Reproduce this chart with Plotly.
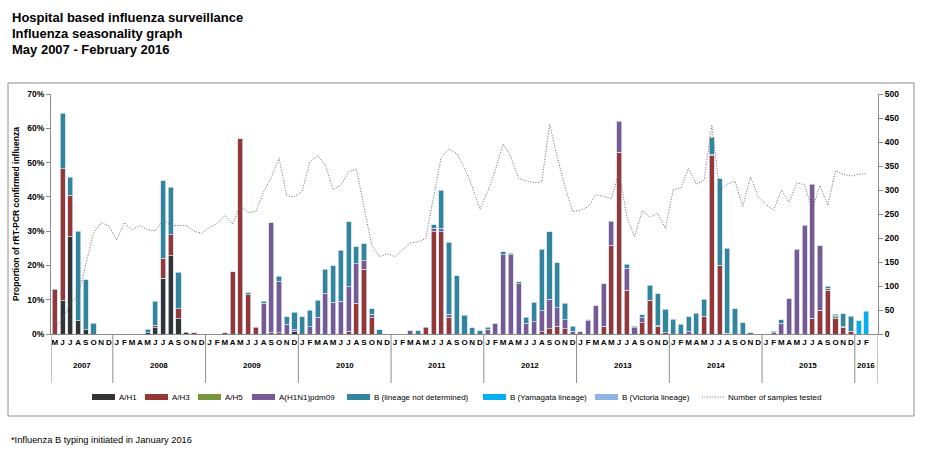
import plotly.graph_objects as go

# ---------------- data ----------------
months = (["M", "J", "J", "A", "S", "O", "N", "D"]
          + ["J", "F", "M", "A", "M", "J", "J", "A", "S", "O", "N", "D"] * 8
          + ["J", "F", ""])
years = ["2007", "2008", "2009", "2010", "2011", "2012", "2013", "2014", "2015", "2016"]
year_len = [8, 12, 12, 12, 12, 12, 12, 12, 12, 3]

a_h1 = ([0, 9.7, 28.4, 3.9, 1.2, 0, 0, 0]
        + [0, 0, 0, 0, 0.4, 1.8, 16.2, 22.8, 4.4, 0.5, 0, 0]
        + [0, 0, 0, 0, 0, 0, 0, 0, 0, 0, 0, 0.8]
        + [0] * 12 * 6
        + [0, 0, None])
a_h3 = ([13.1, 38.5, 12.0, 0, 0, 0, 0, 0]
        + [0, 0, 0, 0, 0, 0.7, 5.9, 6.2, 3.0, 0, 0.4, 0]
        + [0, 0, 0.4, 18.2, 56.9, 11.4, 1.9, 0, 0.4, 0.4, 0, 0]
        + [0, 0, 0, 0, 0, 0, 0.8, 8.9, 18.9, 4.8, 0, 0]
        + [0, 0, 0, 0, 1.9, 29.8, 29.8, 4.9, 0, 0, 0, 0]
        + [0, 0, 0, 0, 0, 0, 0, 0.6, 1.5, 2.2, 1.5, 0]
        + [0, 0, 0, 2.3, 25.9, 53.0, 12.8, 0, 3.3, 9.7, 2.3, 0.3]
        + [0, 0, 0, 0, 5.2, 52.0, 20.0, 0.2, 0, 0, 0, 0]
        + [0, 0, 0, 0, 0, 0, 4.6, 7.0, 12.8, 4.5, 1.9, 0.8]
        + [0, 0, None])
a_h5 = ([0] * 8 + [0] * 12 * 7
        + [0, 0, 0, 0, 0, 0, 0, 0, 0, 0.5, 0, 0]
        + [0, 0, None])
pdm09 = ([0] * 8
         + [0] * 12
         + [0, 0, 0, 0, 0, 0, 0, 8.9, 32.1, 15.0, 2.9, 0.6]
         + [0, 2.1, 4.9, 11.9, 9.2, 9.5, 13.0, 11.6, 2.5, 1.0, 0, 0]
         + [0, 0, 1.0, 0, 0, 1.0, 1.0, 0.9, 0, 0, 0, 0]
         + [1.4, 3.1, 23.1, 23.1, 14.6, 3.1, 3.6, 6.2, 8.7, 5.4, 2.7, 0.8]
         + [0.7, 3.9, 8.2, 12.3, 7.0, 9.1, 6.4, 1.8, 1.4, 0.1, 0.1, 0]
         + [0, 0, 0.7, 0, 0, 0.4, 0, 0, 0, 0, 0, 0]
         + [0, 0.4, 3.1, 10.3, 24.7, 31.7, 39.1, 18.8, 0.6, 0.3, 0.2, 0]
         + [0, 0, None])
b_nd = ([0, 16.2, 5.3, 26.1, 14.6, 3.2, 0, 0]
        + [0, 0, 0, 0, 1.0, 7.1, 22.6, 13.8, 10.6, 0, 0, 0]
        + [0, 0, 0, 0, 0, 0.6, 0, 0.6, 0, 1.5, 2.1, 4.9]
        + [5.0, 4.8, 4.9, 7.0, 10.7, 15.0, 19.0, 5.0, 4.9, 1.5, 1.2, 0]
        + [0, 0, 0, 1.0, 0, 1.1, 11.2, 21.0, 17.0, 5.4, 1.8, 1.0]
        + [0.5, 0.1, 0.9, 0.5, 0.6, 1.8, 5.7, 17.9, 19.6, 13.2, 4.7, 1.5]
        + [0, 0.3, 0, 0, 0, 0, 1.2, 0.5, 0.9, 4.4, 9.4, 6.9]
        + [4.3, 2.8, 4.4, 6.0, 4.9, 5.0, 25.3, 24.8, 7.4, 3.3, 0.3, 0]
        + [0, 0.4, 1.0, 0, 0, 0, 0, 0, 0.5, 0.5, 3.8, 4.4]
        + [0, 0, None])
b_yam = [0] * 104 + [3.8, 6.7, None]
b_vic = [0] * 104 + [0, 0, None]

samples = ([15, 30, 65, 80, 145, 210, 232, 225]
           + [196, 232, 217, 226, 217, 215, 238, 226, 226, 226, 214, 210]
           + [222, 230, 247, 229, 268, 253, 255, 296, 326, 367, 288, 286]
           + [297, 359, 371, 352, 301, 310, 338, 344, 265, 185, 161, 167]
           + [161, 176, 190, 192, 199, 286, 369, 385, 376, 346, 307, 260]
           + [297, 342, 396, 369, 324, 319, 315, 317, 437, 369, 307, 255]
           + [258, 265, 290, 287, 282, 338, 244, 203, 257, 244, 251, 220]
           + [300, 305, 345, 312, 321, 435, 300, 312, 319, 265, 328, 286]
           + [270, 258, 300, 274, 315, 311, 260, 309, 268, 340, 333, 329]
           + [333, 334, None])

x = list(range(len(months)))

series = [
    ("A/H1", a_h1, "#333333"),
    ("A/H3", a_h3, "#953735"),
    ("A/H5", a_h5, "#77933C"),
    ("A(H1N1)pdm09", pdm09, "#775A94"),
    ("B (lineage not determined)", b_nd, "#31859C"),
    ("B (Yamagata lineage)", b_yam, "#00B0F0"),
    ("B (Victoria lineage)", b_vic, "#8DB4E2"),
]
line_name = "Number of samples tested"
line_color = "#6a6a6a"

FONT = "Liberation Sans"
W, H = 931, 459
L, R, T, B = 51, 878, 94, 334


def px_x(p):
    return (p - L) / (R - L)


def px_y(p):
    return (B - p) / (B - T)


fig = go.Figure()
for name, vals, col in series:
    fig.add_trace(go.Bar(
        x=x, y=[v if v else None for v in vals], name=name,
        marker=dict(color=col, line=dict(color="rgba(205,220,238,0.95)", width=0.8)),
        width=0.66, yaxis="y", showlegend=False,
    ))

fig.add_trace(go.Scatter(
    x=x, y=samples, name=line_name, mode="lines",
    line=dict(color=line_color, width=1, dash="1px,1.6px"), yaxis="y2",
    showlegend=False,
))

shapes = []
ann = []
# outer chart border
shapes.append(dict(type="rect", xref="paper", yref="paper",
                   x0=px_x(8), x1=px_x(914), y0=px_y(416), y1=px_y(83),
                   line=dict(color="#8c8c8c", width=1), fillcolor="rgba(0,0,0,0)"))
# year separators and labels
start = -0.5
for yr, n in zip(years, year_len):
    end = start + n
    shapes.append(dict(type="line", xref="x", yref="paper", x0=start, x1=start,
                       y0=0, y1=px_y(383), line=dict(color="#8c8c8c", width=1)))
    ann.append(dict(xref="x", yref="paper", x=(start + end) / 2, y=px_y(372),
                    text=yr, showarrow=False,
                    font=dict(family=FONT, size=8, color="#000", weight="bold")))
    start = end
shapes.append(dict(type="line", xref="x", yref="paper", x0=start, x1=start,
                   y0=0, y1=px_y(383), line=dict(color="#8c8c8c", width=1)))

# legend (drawn manually to match the reference's layout)
legend_x = [92, 145, 198, 252, 347, 483, 595]
ly = 397
for (name, _, col), lx in zip(series, legend_x):
    shapes.append(dict(type="rect", xref="paper", yref="paper",
                       x0=px_x(lx), x1=px_x(lx + 23), y0=px_y(ly + 3), y1=px_y(ly - 3),
                       line=dict(width=0), fillcolor=col))
    ann.append(dict(xref="paper", yref="paper", x=px_x(lx + 25), y=px_y(ly),
                    xanchor="left", yanchor="middle", text=name, showarrow=False,
                    font=dict(family=FONT, size=8, color="#000")))
shapes.append(dict(type="line", xref="paper", yref="paper",
                   x0=px_x(702), x1=px_x(724), y0=px_y(ly), y1=px_y(ly),
                   line=dict(color=line_color, width=1, dash="1px,1.6px")))
ann.append(dict(xref="paper", yref="paper", x=px_x(726), y=px_y(ly),
                xanchor="left", yanchor="middle", text=line_name, showarrow=False,
                font=dict(family=FONT, size=8, color="#000")))

titles = ["Hospital based influenza surveillance", "Influenza seasonality graph",
          "May 2007 - February 2016"]
for i, t in enumerate(titles):
    ann.append(dict(xref="paper", yref="paper", x=px_x(10), y=px_y(17 + 16 * i),
                    xanchor="left", yanchor="middle", text=t, showarrow=False,
                    font=dict(family=FONT, size=13, color="#000", weight="bold")))
ann.append(dict(xref="paper", yref="paper", x=px_x(9), y=px_y(440),
                xanchor="left", yanchor="middle",
                text="*Influenza B typing initiated in January 2016", showarrow=False,
                font=dict(family=FONT, size=9.3, color="#000")))

fig.update_layout(
    width=W, height=H,
    margin=dict(l=L, r=W - R, t=T, b=H - B),
    paper_bgcolor="white", plot_bgcolor="white",
    barmode="stack", bargap=0.3,
    font=dict(family=FONT, size=9, color="#000"),
    showlegend=False,
    xaxis=dict(range=[-0.5, len(months) - 0.5], tickmode="array", tickvals=x,
               ticktext=months, ticks="", showgrid=False, zeroline=False,
               showline=True, linecolor="#8c8c8c", linewidth=1,
               tickfont=dict(family=FONT, size=8, color="#000", weight="bold"),
               tickangle=0, fixedrange=True),
    yaxis=dict(range=[0, 70], dtick=10, ticksuffix="%", ticks="outside", ticklen=4,
               tickcolor="#8c8c8c", showline=True, linecolor="#8c8c8c", showgrid=False,
               zeroline=False,
               tickfont=dict(family=FONT, size=8.5, color="#000", weight="bold"),
               title=dict(text="Proportion of rRT-PCR confirmed influenza", standoff=6,
                          font=dict(family=FONT, size=8.5, color="#000", weight="bold"))),
    yaxis2=dict(range=[0, 500], dtick=50, overlaying="y", side="right", ticks="outside",
                ticklen=4, tickcolor="#8c8c8c", showline=True, linecolor="#8c8c8c",
                showgrid=False, zeroline=False,
                tickfont=dict(family=FONT, size=8.5, color="#000", weight="bold")),
    shapes=shapes, annotations=ann,
)

fig.write_html("out.html", config={"displayModeBar": False},
               post_script="document.body.style.margin='0';document.body.style.overflow='hidden';")
